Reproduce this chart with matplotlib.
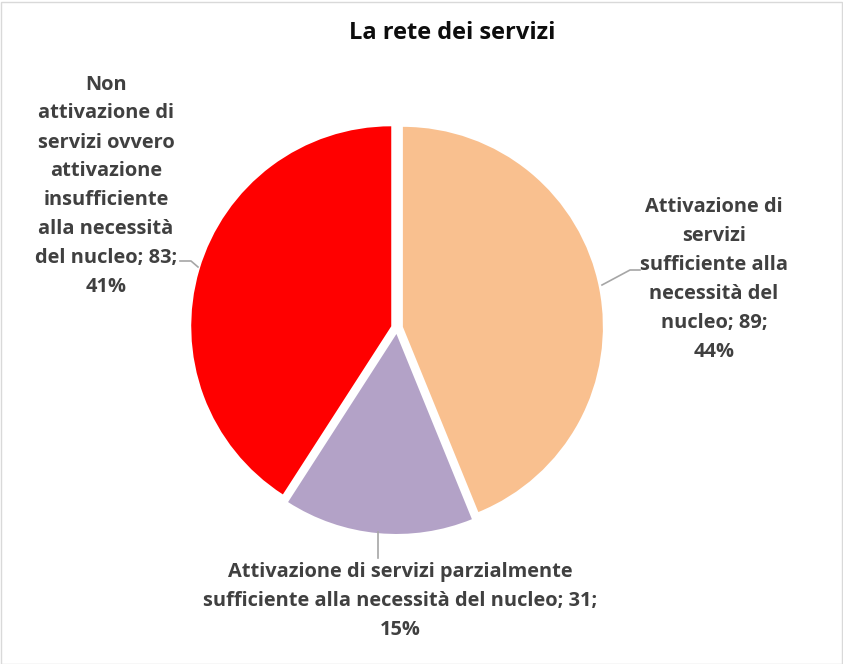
import matplotlib
matplotlib.use("Agg")
import matplotlib.pyplot as plt
from matplotlib.patches import Rectangle

categories = [
    "Attivazione di servizi sufficiente alla necessità del nucleo",
    "Attivazione di servizi parzialmente sufficiente alla necessità del nucleo",
    "Non attivazione di servizi ovvero attivazione insufficiente alla necessità del nucleo",
]
values = [89, 31, 83]
percent_labels = ["44%", "15%", "41%"]
colors = ["#F9C08F", "#B3A2C7", "#FF0000"]

label_texts = [
    "Attivazione di\nservizi\nsufficiente alla\nnecessità del\nnucleo; {v};\n{p}",
    "Attivazione di servizi parzialmente\nsufficiente alla necessità del nucleo; {v};\n{p}",
    "Non\nattivazione di\nservizi ovvero\nattivazione\ninsufficiente\nalla necessità\ndel nucleo; {v};\n{p}",
]

W, H = 843, 664
fig = plt.figure(figsize=(W / 100, H / 100), dpi=100)
ax = fig.add_axes([0, 0, 1, 1])
R = 200.0
cx, cy = 397.0, 328.0  # pixel center (from top)

ax.pie(values, colors=colors, startangle=90, counterclock=False,
       explode=[0.03, 0.03, 0.03], radius=1.0,
       wedgeprops=dict(linewidth=0))
ax.set_xlim(-cx / R, (W - cx) / R)
ax.set_ylim(-(H - cy) / R, cy / R)
ax.set_aspect("equal")
ax.axis("off")


def px(x, y):
    return ((x - cx) / R, (cy - y) / R)


txtcol = "#404040"
font = "Open Sans"
fs = 14.4

# label positions (pixel coords)
pos = [(714, 280), (400, 601), (106, 186)]
for i in range(3):
    s = label_texts[i].format(v=values[i], p=percent_labels[i])
    x, y = px(*pos[i])
    ax.text(x, y, s, ha="center", va="center", fontsize=fs, fontweight="bold",
            color=txtcol, family=font, linespacing=1.6)

lc = "#A6A6A6"
# leader lines
ax.plot(*zip(px(602, 285), px(630, 270), px(640, 270)), color=lc, lw=1.2)
ax.plot(*zip(px(378, 532), px(378, 558)), color=lc, lw=1.2)
ax.plot(*zip(px(198, 267), px(191, 261), px(180, 261)), color=lc, lw=1.2)

# title
fig.text(452 / W, 1 - 33 / H, "La rete dei servizi", ha="center", va="center",
         fontsize=17, fontweight="bold", color="#0D0D0D", family=font)

# border
fig.patches.append(Rectangle((0.5 / W, 0.5 / H), (W - 2) / W, (H - 2) / H,
                             transform=fig.transFigure, fill=False,
                             edgecolor="#D9D9D9", lw=1))

fig.savefig("out.png", dpi=100)
